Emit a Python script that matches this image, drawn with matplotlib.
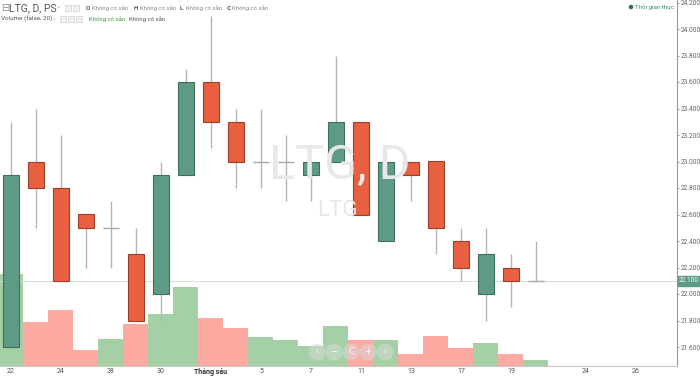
import matplotlib
matplotlib.use("Agg")
import matplotlib.pyplot as plt
from matplotlib.patches import Rectangle, Ellipse
import numpy as np

# ---- data ----
dates = ["22", "23", "24", "25", "28", "29", "30", "31", "1", "4", "5", "6",
         "7", "8", "11", "12", "13", "14", "17", "18", "19", "20"]
opens = [21.6, 23.0, 22.8, 22.6, 22.5, 22.3, 22.0, 22.9, 23.6, 23.3, 23.0, 23.0,
         22.9, 23.0, 23.3, 22.4, 23.0, 23.0, 22.4, 22.0, 22.2, 22.1]
highs = [23.3, 23.4, 23.2, 22.6, 22.7, 22.5, 23.0, 23.7, 24.1, 23.4, 23.4, 23.2,
         23.0, 23.8, 23.3, 23.0, 23.0, 23.0, 22.5, 22.5, 22.3, 22.4]
lows = [21.6, 22.5, 22.1, 22.2, 22.2, 21.8, 21.8, 22.9, 23.1, 22.8, 22.8, 22.7,
        22.7, 23.0, 22.6, 22.4, 22.7, 22.3, 22.1, 21.8, 21.9, 22.1]
closes = [22.9, 22.8, 22.1, 22.5, 22.5, 21.8, 22.9, 23.6, 23.3, 23.0, 23.0, 23.0,
          23.0, 23.3, 22.6, 23.0, 22.9, 22.5, 22.2, 22.3, 22.1, 22.1]
volumes = [920000, 440000, 560000, 160000, 270000, 420000, 520000, 790000,
           480000, 380000, 290000, 260000, 200000, 400000, 260000, 260000,
           120000, 300000, 180000, 230000, 120000, 60000]
tick_pos = [0, 2, 4, 6, 8, 10, 12, 14, 16, 18, 20, 23, 25]
tick_labels = ["22", "24", "28", "30", "Tháng sáu", "5", "7", "11", "13", "17",
               "19", "24", "26"]
price_ticks = [21.6, 21.8, 22.0, 22.2, 22.4, 22.6, 22.8, 23.0, 23.2, 23.4,
               23.6, 23.8, 24.0, 24.2]
last_price = 22.1

UP = "#5e9b84"
DOWN = "#e8603f"
UP_EDGE = "#3f6e5c"
DOWN_EDGE = "#9c3f2a"
VOL_UP = "#a5d0a5"
VOL_DOWN = "#fca9a2"
WICK = "#b5b5b5"

W, H = 700, 376
fig = plt.figure(figsize=(7, 3.76), dpi=100)
fig.patch.set_facecolor("white")
ax_l, ax_r, ax_b, ax_t = 0.0, 677 / W, 10 / H, 1.0
axv = fig.add_axes([ax_l, ax_b, ax_r - ax_l, ax_t - ax_b])
ax = fig.add_axes([ax_l, ax_b, ax_r - ax_l, ax_t - ax_b])
ax.patch.set_alpha(0)

n = len(dates)
x = np.arange(n)
xlim = (-0.44, 26.64)

# volume
vcols = [VOL_UP if c >= o else VOL_DOWN for o, c in zip(opens, closes)]
axv.bar(x, volumes, width=1.0, color=vcols, edgecolor=vcols, linewidth=0)
axv.set_xlim(*xlim)
axv.set_ylim(0, 3660000)
axv.axis("off")

# watermark
fig.text(340 / W, 1 - 166 / H, "LTG, D", fontsize=35, color="#e8e8e8",
         ha="center", va="center", family="Roboto", zorder=0)
fig.text(337 / W, 1 - 211 / H, "LTG", fontsize=16, color="#e8e8e8",
         ha="center", va="center", family="Roboto", zorder=0)

# last price line
ax.axhline(last_price, color="#dcdcdc", lw=0.8, zorder=1)

# candles
bw = 0.64
for i in range(n):
    o, h, l, c = opens[i], highs[i], lows[i], closes[i]
    ax.vlines(x[i], l, h, color=WICK, lw=1.0, zorder=2)
    if abs(c - o) < 1e-9:
        ax.hlines(o, x[i] - bw / 2, x[i] + bw / 2, color="#a8a8a8", lw=1.0, zorder=3)
    else:
        up = c > o
        ax.bar(x[i], abs(c - o), bottom=min(o, c), width=bw,
               color=UP if up else DOWN, edgecolor=UP_EDGE if up else DOWN_EDGE,
               linewidth=0.8, zorder=3)

ax.set_xlim(*xlim)
ax.set_ylim(22.0 - 72 / 132.5, 22.0 + 294 / 132.5)

ax.yaxis.tick_right()
ax.set_yticks(price_ticks)
ax.set_yticklabels([f"{v:.3f}" for v in price_ticks], fontsize=4.7, color="#666666",
                   family="Roboto")
ax.set_xticks(tick_pos)
ax.set_xticklabels(tick_labels, fontsize=5, color="#555555", family="Roboto")
for lab in ax.get_xticklabels():
    if lab.get_text() == "Tháng sáu":
        lab.set_fontweight("bold")
        lab.set_color("#333333")
ax.tick_params(axis="y", length=1.5, width=0.6, color="#888888", pad=1.2)
ax.tick_params(axis="x", length=0, pad=1.5)
for s in ["top", "left"]:
    ax.spines[s].set_visible(False)
ax.spines["right"].set_color("#9a9a9a")
ax.spines["bottom"].set_color("#c8c8c8")
ax.spines["right"].set_linewidth(0.8)
ax.spines["bottom"].set_linewidth(0.8)

# last price tag
fig.patches.append(Rectangle((678 / W, 1 - 286 / H), 21 / W, 10 / H,
                             transform=fig.transFigure, fc=UP, ec=UP, zorder=5))
fig.text(688.5 / W, 1 - 281 / H, f"{last_price:.3f}", fontsize=4.7, color="white",
         ha="center", va="center", family="Roboto", zorder=6)

# nav buttons
for bx, sym in [(317, "‹"), (334, "−"), (351, "C"), (368, "+"), (385, "›")]:
    fig.patches.append(Ellipse((bx / W, 1 - 352 / H), 17 / W, 17 / H,
                               transform=fig.transFigure, facecolor="#dadada",
                               edgecolor="none", alpha=0.5, zorder=5))
    fig.text(bx / W, 1 - 352 / H, sym, fontsize=6, color="white",
             ha="center", va="center", zorder=6)

# header legend
def ft(px, py, s, **kw):
    fig.text(px / W, 1 - py / H, s, va="center", ha="left", **kw)

ft(1, 8, "⊟", fontsize=7, color="#8a8a8a", family="DejaVu Sans")
ft(9, 8, "LTG, D, PS", fontsize=7.5, color="#555555", family="Roboto")
ft(56, 7, "⌄", fontsize=4.5, color="#aaaaaa", family="DejaVu Sans")
for bx in [65, 73]:
    fig.patches.append(Rectangle((bx / W, 1 - 11 / H), 6 / W, 6 / H,
                                 transform=fig.transFigure, fc="#f0f0f0",
                                 ec="#cfcfcf", lw=0.5))
ohlc = [("O", 86), ("H", 134), ("L", 180), ("C", 227)]
for lab, px in ohlc:
    ft(px, 8, lab, fontsize=4.5, color="#555555", fontweight="bold", family="Roboto")
    ft(px + 5.5, 8, "Không có sẵn", fontsize=4.3, color="#8a8a8a", family="Roboto")

ft(1, 19, "Volume (false, 20)", fontsize=4.6, color="#555555", family="Roboto")
ft(52, 18, "⌄", fontsize=4, color="#aaaaaa", family="DejaVu Sans")
for bx in [60, 68, 76]:
    fig.patches.append(Rectangle((bx / W, 1 - 22 / H), 6 / W, 6 / H,
                                 transform=fig.transFigure, fc="#f0f0f0",
                                 ec="#cfcfcf", lw=0.5))
ft(89, 19, "Không có sẵn", fontsize=4.3, color="#3e9a3e", family="Roboto")
ft(129, 19, "Không có sẵn", fontsize=4.3, color="#555555", family="Roboto")

# realtime indicator
fig.patches.append(Ellipse((631 / W, 1 - 7 / H), 4.5 / W, 4.5 / H,
                           transform=fig.transFigure, fc="#2f6e5a", ec="none"))
ft(635, 7, "Thời gian thực", fontsize=4.4, color="#3b8a72", family="Roboto")

fig.savefig("out.png", dpi=100)
